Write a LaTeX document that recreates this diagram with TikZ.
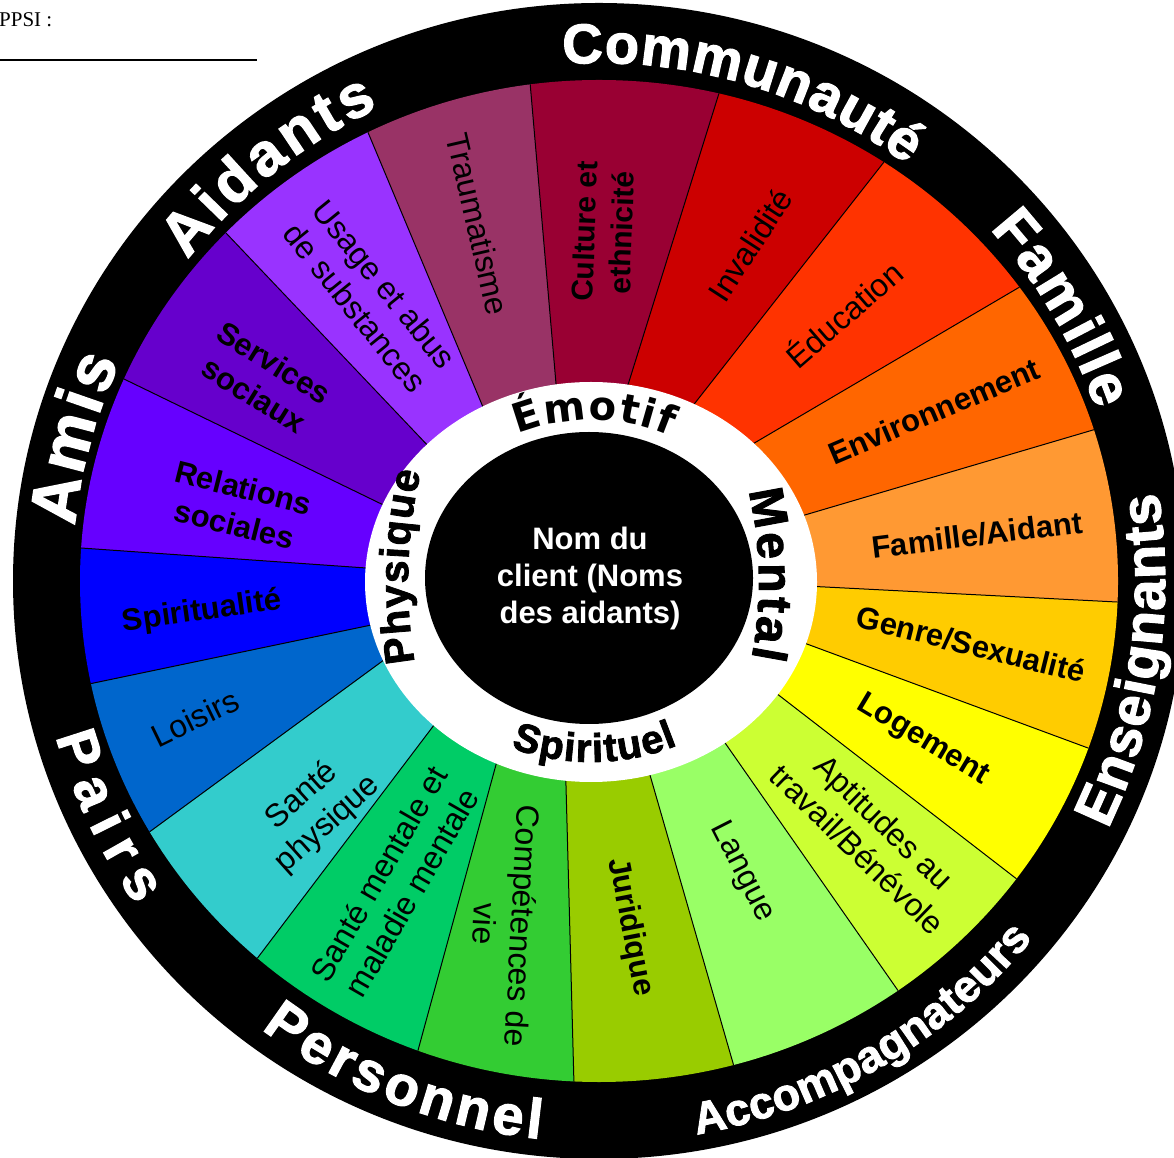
\documentclass[tikz,border=0pt]{standalone}
\usepackage{fontspec}
\setmainfont{Liberation Sans}
\newfontfamily\ringfont{Liberation Sans}[BoldFeatures={FakeBold=2}]
\newfontfamily\heavyfont{DejaVu Sans}
\newfontfamily\seriffont{Liberation Serif}
\usetikzlibrary{calc,decorations.text}
\newcommand\RingF[1]{\ringfont\bfseries\fontsize{#1}{#1}\selectfont}
\newcommand\HeavyF[1]{\heavyfont\bfseries\fontsize{#1}{#1}\selectfont}
\definecolor{cTrau}{HTML}{993366}
\definecolor{cCult}{HTML}{990033}
\definecolor{cInva}{HTML}{CC0000}
\definecolor{cEduc}{HTML}{FF3300}
\definecolor{cEnvi}{HTML}{FF6600}
\definecolor{cFami}{HTML}{FF9933}
\definecolor{cGenr}{HTML}{FFCC00}
\definecolor{cLoge}{HTML}{FFFF00}
\definecolor{cApti}{HTML}{CCFF33}
\definecolor{cLang}{HTML}{99FF66}
\definecolor{cJuri}{HTML}{99CC00}
\definecolor{cComp}{HTML}{33CC33}
\definecolor{cSame}{HTML}{00CC66}
\definecolor{cSaph}{HTML}{33CCCC}
\definecolor{cLois}{HTML}{0066CC}
\definecolor{cSpir}{HTML}{0000FF}
\definecolor{cRela}{HTML}{6600FF}
\definecolor{cServ}{HTML}{6600CC}
\definecolor{cUsag}{HTML}{9933FF}
\begin{document}
\begin{tikzpicture}[x=1pt,y=1pt,
 seg/.style={font=\fontsize{32}{38}\selectfont, align=center, inner sep=0pt, text=black},
 segb/.style={seg, font=\bfseries\fontsize{31}{38}\selectfont},
 ringlabel/.style={decorate, decoration={text along path, text align={fit to path}, text color=white}},
 innerlabel/.style={decorate, decoration={text along path, text align={fit to path}, text color=black}},
 sepline/.style={line width=1pt, black}]

\useasboundingbox (0,0) rectangle (1174,1157);
\fill[white] (0,0) rectangle (1174,1157);

\coordinate (rc) at (599,576);
\coordinate (wc) at (591,575);
\coordinate (dc) at (589,579);

\fill[black] (rc) ellipse [x radius=586, y radius=578];

% segment boundaries (inner / outer ends)
\coordinate (in-a) at (475,769); \coordinate (out-a) at (367,1027);
\coordinate (in-b) at (555,785); \coordinate (out-b) at (530,1075);
\coordinate (in-c) at (632,785); \coordinate (out-c) at (720,1067);
\coordinate (in-d) at (706,768); \coordinate (out-d) at (884,995);
\coordinate (in-e) at (768,722); \coordinate (out-e) at (1018,869);
\coordinate (in-f) at (815,645); \coordinate (out-f) at (1093,727);
\coordinate (in-g) at (825,570); \coordinate (out-g) at (1117,555);
\coordinate (in-h) at (815,510); \coordinate (out-h) at (1088,409);
\coordinate (in-i) at (785,457); \coordinate (out-i) at (1018,277);
\coordinate (in-j) at (730,407); \coordinate (out-j) at (899,165);
\coordinate (in-k) at (652,375); \coordinate (out-k) at (735,87);
\coordinate (in-l) at (566,371); \coordinate (out-l) at (574,72);
\coordinate (in-m) at (494,385); \coordinate (out-m) at (417,103);
\coordinate (in-n) at (428,424); \coordinate (out-n) at (256,197);
\coordinate (in-o) at (373,489); \coordinate (out-o) at (148,324);
\coordinate (in-p) at (357,529); \coordinate (out-p) at (89,473);
\coordinate (in-q) at (352,590); \coordinate (out-q) at (81,609);
\coordinate (in-r) at (367,660); \coordinate (out-r) at (126,777);
\coordinate (in-s) at (413,727); \coordinate (out-s) at (226,924);

\begin{scope}
\clip (rc) ellipse [x radius=519, y radius=501];
\foreach \p/\q/\col in {a/b/cTrau, b/c/cCult, c/d/cInva, d/e/cEduc, e/f/cEnvi, f/g/cFami, g/h/cGenr, h/i/cLoge, i/j/cApti, j/k/cLang, k/l/cJuri, l/m/cComp, m/n/cSame, n/o/cSaph, o/p/cLois, p/q/cSpir, q/r/cRela, r/s/cServ, s/a/cUsag} {
  \fill[fill=\col] ($(in-\p)!-0.5!(out-\p)$) -- ($(in-\p)!1.3!(out-\p)$) -- ($(in-\q)!1.3!(out-\q)$) -- ($(in-\q)!-0.5!(out-\q)$) -- cycle;
}
\foreach \p in {a,b,c,d,e,f,g,h,i,j,k,l,m,n,o,p,q,r,s} {
  \draw[sepline] ($(in-\p)!-0.2!(out-\p)$) -- ($(in-\p)!1.2!(out-\p)$);
}
\end{scope}

\fill[white] (wc) ellipse [x radius=226, y radius=200];
\fill[black] (dc) ellipse [x radius=164, y radius=146];

% segment labels
\node[seg, rotate=-77] (lTrau) at (478,933) {Traumatisme};
\node[segb, font=\bfseries\fontsize{30}{37}\selectfont, rotate=88] (lCult) at (603,925) {Culture et\\ethnicité};
\node[seg, rotate=57] (lInva) at (750,912) {Invalidité};
\node[seg, rotate=41] (lEduc) at (843,844) {Éducation};
\node[segb, rotate=23] (lEnvi) at (934,746) {Environnement};
\node[segb, rotate=7] (lFami) at (977,622) {Famille/Aidant};
\node[segb, rotate=-14] (lGenr) at (971,513) {Genre/Sexualité};
\node[segb, rotate=-31] (lLoge) at (923,417) {Logement};
\node[seg, rotate=-44] (lApti) at (871,321) {Aptitudes au\\travail/Bénévole};
\node[seg, rotate=-63] (lLang) at (742,285) {Langue};
\node[segb, rotate=-79] (lJuri) at (630,230) {Juridique};
\node[seg, rotate=-93] (lComp) at (504,232) {Compétences de\\vie};
\node[seg, rotate=60] (lSame) at (395,274) {Santé mentale et\\maladie mentale};
\node[seg, rotate=42] (lSaph) at (315,347) {Santé\\physique};
\node[seg, rotate=26] (lLois) at (195,439) {Loisirs};
\node[segb, rotate=8] (lSpir) at (202,545) {Spiritualité};
\node[segb, rotate=-14] (lRela) at (239,651) {Relations\\sociales};
\node[segb, rotate=-32] (lServ) at (264,778) {Services\\sociaux};
\node[seg, rotate=-51] (lUsag) at (370,861) {Usage et abus\\de substances};

% centre
\node[font=\bfseries\fontsize{31}{37}\selectfont, text=white, align=center, inner sep=0pt] (client) at (590,579) {Nom du\\client (Noms\\des aidants)};

% inner ring labels
\path[innerlabel, decoration={text={|\HeavyF{40}|Émotif}}] ($(wc)+(114:180 and 162)$) arc[start angle=114, end angle=64, x radius=180, y radius=162];
\path[innerlabel, decoration={text={|\RingF{48}|Mental}}] ($(wc)+(20.5:168 and 260)$) arc[start angle=20.5, end angle=-17, x radius=168, y radius=260];
\path[innerlabel, decoration={text={|\RingF{41}|Physique}}] ($(wc)+(195.5:183 and 300)$) arc[start angle=195.5, end angle=158.5, x radius=183, y radius=300];
\path[innerlabel, decoration={text={|\RingF{40}|Spirituel}}] ($(wc)+(-113:205 and 180)$) arc[start angle=-113, end angle=-65, x radius=205, y radius=180];

% outer ring labels
\path[ringlabel, decoration={text={|\RingF{56}|Communauté}}] ($(rc)+(94:518)$) arc[start angle=94, end angle=53.5, radius=518];
\path[ringlabel, decoration={text={|\RingF{58}|Famille}}] ($(rc)+(42:526)$) arc[start angle=42, end angle=19, radius=526];
\path[ringlabel, decoration={text={|\RingF{60}|Aidants}}] ($(rc)+(142:522)$) arc[start angle=142, end angle=115, radius=522];
\path[ringlabel, decoration={text={|\RingF{66}|Amis}}] ($(rc)+(174:527)$) arc[start angle=174, end angle=155.5, radius=527];
\path[ringlabel, decoration={text={|\RingF{56}|Enseignants}}] ($(rc)+(-26:566)$) arc[start angle=-26, end angle=9, radius=566];
\path[ringlabel, decoration={text={|\RingF{45}|Accompagnateurs}}] ($(rc)+(-80:562)$) arc[start angle=-80, end angle=-39.5, radius=562];
\path[ringlabel, decoration={text={|\RingF{56}|Personnel}}] ($(rc)+(-127:561)$) arc[start angle=-127, end angle=-96, radius=561];
\path[ringlabel, decoration={text={|\RingF{56}|Pairs}}] ($(rc)+(-164:565)$) arc[start angle=-164, end angle=-145, radius=565];

% header
\node[anchor=base west, inner sep=0pt, font=\seriffont\fontsize{21}{21}\selectfont] (ppsi) at (-1,1130) {PPSI :};
\coordinate (lineA) at (0,1097);
\coordinate (lineB) at (257,1097);
\draw[line width=1.3pt] (lineA) -- (lineB);
\end{tikzpicture}
\end{document}
